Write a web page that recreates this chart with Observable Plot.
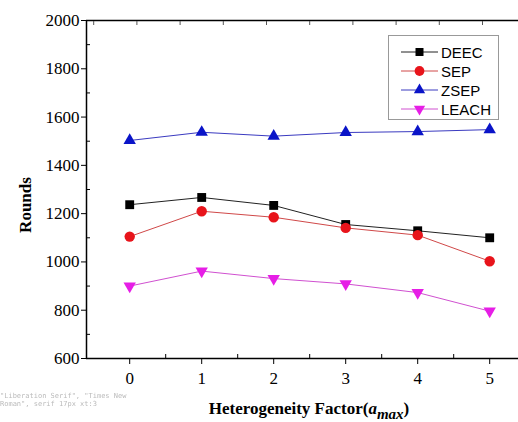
<!DOCTYPE html>
<html><head><meta charset="utf-8">
<style>
body{margin:0;background:#fff}
svg{display:block}
#chart svg text { font-family: "Liberation Serif", "Times New Roman", serif !important; }
#chart svg g.legend text { font-family: "Liberation Sans", Arial, sans-serif !important; }
#dbg{position:fixed;left:0;top:392px;width:150px;font:7px monospace;color:#bbb;margin:0;white-space:pre-wrap}
</style>
<script src="https://cdn.jsdelivr.net/npm/d3@7"></script>
<script src="https://cdn.jsdelivr.net/npm/@observablehq/plot@0.6"></script>
</head><body><div id="chart"></div><pre id="dbg"></pre>
<script>
// ---- data ----
const factors = [0, 1, 2, 3, 4, 5];
const deec  = [1237, 1267, 1234, 1155, 1129, 1100];
const sep   = [1105, 1210, 1185, 1141, 1111, 1003];
const zsep  = [1503, 1537, 1521, 1536, 1540, 1548];
const leach = [900, 962, 931, 909, 873, 796];
const seriesNames = ["DEEC", "SEP", "ZSEP", "LEACH"];
const yTicks = [600, 800, 1000, 1200, 1400, 1600, 1800, 2000];
const yMinor = [700, 900, 1100, 1300, 1500, 1700, 1900];
const xTicks = [0, 1, 2, 3, 4, 5];
const xMinor = [0.5, 1.5, 2.5, 3.5, 4.5];
const topTicks = [-0.5, 0.1, 0.7, 1.3, 1.9, 2.5, 3.1, 3.7, 4.3, 4.9];
const xLabel = "Heterogeneity Factor(";
const yLabel = "Rounds";

// ---- styles ----
const SERIF = "Liberation Serif";
const SANS = "Liberation Sans";
const styles = {
  DEEC:  {values: deec,  line: "#222",    fill: "#000",    symbol: "square",   r: 5,   rotate: 0,   d3sym: d3.symbolSquare,   size: 64},
  SEP:   {values: sep,   line: "#d04848", fill: "#e8141b", symbol: "circle",   r: 5.2, rotate: 0,   d3sym: d3.symbolCircle,   size: 75},
  ZSEP:  {values: zsep,  line: "#3a3ac0", fill: "#0a14c8", symbol: "triangle", r: 4.6, rotate: 0,   d3sym: d3.symbolTriangle, size: 55},
  LEACH: {values: leach, line: "#d050d0", fill: "#e61ee6", symbol: "triangle", r: 4.6, rotate: 180, d3sym: d3.symbolTriangle, size: 55}
};

const marks = [];
for (const name of seriesNames) {
  const s = styles[name];
  marks.push(Plot.line(factors, {x: d => d, y: (d, i) => s.values[i], stroke: s.line, strokeWidth: 1}));
}
for (const name of seriesNames) {
  const s = styles[name];
  marks.push(Plot.dot(factors, {x: d => d, y: (d, i) => s.values[i], symbol: s.symbol, r: s.r, fill: s.fill, stroke: "none", rotate: s.rotate}));
}

const xDomain = [-0.6, 5.4];
const yDomain = [600, 2000];

const chart = Plot.plot({
  width: 518,
  height: 422,
  marginLeft: 86,
  marginRight: 0,
  marginTop: 20,
  marginBottom: 64,
  x: {domain: xDomain},
  y: {domain: yDomain},
  marks: [
    Plot.ruleY([yDomain[0]], {stroke: "#000", strokeWidth: 1.5}),
    Plot.ruleY([yDomain[1]], {stroke: "#000", strokeWidth: 1.3}),
    Plot.ruleX([xDomain[0]], {stroke: "#000", strokeWidth: 1.5}),
    Plot.axisY({ticks: yTicks, tickSize: 5, tickPadding: 2, label: null, tickFormat: "d", fill: "#000", fontFamily: SERIF, fontSize: 17}),
    Plot.axisY({ticks: yMinor, tickSize: -4, tickFormat: () => "", label: null}),
    Plot.axisX({ticks: xTicks, tickSize: 6, tickPadding: 7, label: null, tickFormat: "d", fill: "#000", fontFamily: SERIF, fontSize: 17}),
    Plot.axisX({ticks: xMinor, tickSize: -4, tickFormat: () => "", label: null}),
    Plot.axisX({anchor: "top", ticks: topTicks, tickSize: -4, tickFormat: () => "", label: null, stroke: "#555"}),
    ...marks
  ]
});

chart.setAttribute("font-family", SERIF);
chart.setAttribute("font-size", "17");
document.getElementById("chart").appendChild(chart);
const svg = d3.select(chart);

svg.selectAll("text")
  .attr("font-family", SERIF)
  .style("font-family", SERIF)
  .attr("font-size", 17)
  .style("font-size", "17px");

// y label
svg.append("text")
  .attr("transform", "translate(25,205) rotate(-90)")
  .attr("text-anchor", "middle")
  .attr("dominant-baseline", "central")
  .attr("font-family", SERIF)
  .attr("font-size", 17)
  .style("font-weight", "bold")
  .text(yLabel);

// x label with subscript
const xt = svg.append("text")
  .attr("x", 309).attr("y", 414)
  .attr("text-anchor", "middle")
  .attr("font-family", SERIF)
  .attr("font-size", 17)
  .style("font-weight", "bold");
xt.append("tspan").text(xLabel);
xt.append("tspan").style("font-style", "italic").text("a");
xt.append("tspan").style("font-style", "italic").style("font-size", "15px").attr("dy", 5).text("max");
xt.append("tspan").attr("dy", -5).text(")");

// legend
const lg = svg.append("g").attr("class", "legend").attr("font-family", SANS).attr("font-size", 15);
lg.append("rect").attr("x", 388.5).attr("y", 35.5).attr("width", 110).attr("height", 84)
  .attr("fill", "#fff").attr("stroke", "#999").attr("stroke-width", 1);
const rowY = [52, 71, 90, 109];
seriesNames.forEach((name, i) => {
  const s = styles[name];
  const y = rowY[i];
  lg.append("line").attr("x1", 401).attr("x2", 438).attr("y1", y).attr("y2", y)
    .attr("stroke", s.line).attr("stroke-width", 1);
  lg.append("path").attr("d", d3.symbol(s.d3sym, s.size)())
    .attr("transform", `translate(419.5,${y}) rotate(${s.rotate})`)
    .attr("fill", s.fill);
  lg.append("text").attr("x", 441).attr("y", y)
    .attr("text-anchor", "start")
    .attr("dominant-baseline", "central")
    .attr("font-family", SANS)
    .style("font-size", "15px")
    .text(name);
});

// tiny diagnostic
try {
  const t = chart.querySelector("g[aria-label='y-axis tick label'] text");
  const cs = getComputedStyle(t);
  const topG = chart.querySelectorAll("g[aria-label='x-axis tick']").length;
  document.getElementById("dbg").textContent = cs.fontFamily + " " + cs.fontSize + " xt:" + topG;
} catch (e) { document.getElementById("dbg").textContent = "err " + e.message; }
</script>
</body></html>
